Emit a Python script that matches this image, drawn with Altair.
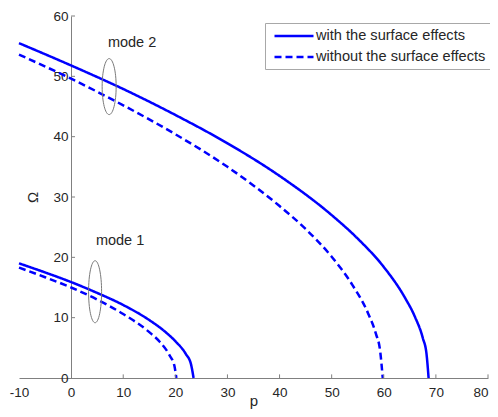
import altair as alt
import pandas as pd

series_labels = ["with the surface effects", "without the surface effects"]

m1_with_p = [-10, -5, 0, 5, 10, 15, 18, 20, 22, 23, 23.5]
m1_with_w = [19.0, 17.5, 15.9, 14.1, 12.1, 9.6, 7.7, 6.1, 4.0, 2.3, 0.0]
m1_without_p = [-10, -5, 0, 5, 10, 15, 17, 19, 19.8, 20.2]
m1_without_w = [18.3, 16.7, 15.0, 13.0, 10.6, 7.6, 6.0, 3.6, 2.1, 0.0]
m2_with_p = [-10, 0, 10, 20, 30, 40, 50, 55, 60, 64, 66, 67.5, 68.2, 68.6]
m2_with_w = [55.5, 51.8, 47.9, 43.6, 38.9, 33.5, 27.0, 23.1, 18.4, 13.4, 10.1, 6.6, 4.0, 0.0]
m2_without_p = [-10, 0, 10, 20, 30, 40, 45, 50, 54, 57, 58.5, 59.3, 59.8]
m2_without_w = [53.6, 49.6, 45.2, 40.4, 35.0, 28.5, 24.7, 20.1, 15.4, 10.7, 7.3, 4.5, 0.0]

x_ticks = [-10, 0, 10, 20, 30, 40, 50, 60, 70, 80]
y_ticks = [0, 10, 20, 30, 40, 50, 60]

mode_labels = ["mode 1", "mode 2"]
mode_label_p = [9.4, 11.7]
mode_label_w = [22.7, 55.6]
ellipse_p = [4.6, 7.3]
ellipse_w = [14.3, 48.3]

rows = []
for mode, eff, ps, ws in [
    ("mode 1", series_labels[0], m1_with_p, m1_with_w),
    ("mode 1", series_labels[1], m1_without_p, m1_without_w),
    ("mode 2", series_labels[0], m2_with_p, m2_with_w),
    ("mode 2", series_labels[1], m2_without_p, m2_without_w),
]:
    for p, w in zip(ps, ws):
        rows.append({"p": p, "w": w, "mode": mode, "effect": eff})
lines_df = pd.DataFrame(rows)

FONT = "Liberation Sans"
TXT = "#262626"
AX = "#808080"
BLUE = "#0000ff"

xscale = alt.Scale(domain=[-10, 80], nice=False, zero=False)
yscale = alt.Scale(domain=[0, 60], nice=False)

lines = alt.Chart(lines_df).mark_line(
    color=BLUE, strokeWidth=2.5, interpolate="monotone"
).encode(
    x=alt.X("p:Q", scale=xscale, axis=alt.Axis(
        values=x_ticks, ticks=False, grid=False, domainColor=AX,
        labelExpr="datum.value < 0 ? '-' + abs(datum.value) : '' + datum.value",
        labelAlign={"condition": {"test": f"datum.value >= {x_ticks[-1]}", "value": "right"},
                    "value": "center"},
        labelFont=FONT, labelFontSize=13.5, labelColor=TXT, labelPadding=7,
        title="p", titleFont=FONT, titleFontSize=15, titleFontWeight="normal",
        titleColor=TXT, titleBaseline="alphabetic", titleY=27,
        labelFlush=False)),
    y=alt.Y("w:Q", scale=yscale, axis=alt.Axis(
        values=y_ticks, ticks=False, grid=False, domainColor=AX, offset=-52,
        labelFont=FONT, labelFontSize=13.5, labelColor=TXT, labelPadding=3,
        title="Ω", titleFont=FONT, titleFontSize=15, titleFontWeight="normal",
        titleColor=TXT, titlePadding=12, labelFlush=False)),
    detail="mode:N",
    strokeDash=alt.StrokeDash("effect:N", scale=alt.Scale(
        domain=series_labels, range=[[1, 0], [7, 4]]),
        legend=alt.Legend(
            title=None, orient="none", legendX=246, legendY=7,
            symbolType="M-3,0L3,0", symbolSize=169, symbolStrokeWidth=2.5,
            symbolStrokeColor=BLUE, symbolFillColor="transparent",
            labelFont=FONT, labelFontSize=14.6,
            labelColor=TXT, labelLimit=400, labelOffset=14,
            strokeColor="#a8a8a8", fillColor="white", padding=5,
            symbolOffset=16, rowPadding=6)),
)

xt_df = pd.DataFrame({"p": [t for t in x_ticks if t > 0]})
xticks_layer = alt.Chart(xt_df).mark_rule(color=AX, strokeWidth=1).encode(
    x=alt.X("p:Q", scale=xscale),
    y=alt.datum(0, scale=yscale),
    y2=alt.datum(0.6),
)
yt_df = pd.DataFrame({"w": [t for t in y_ticks if t > 0]})
yticks_layer = alt.Chart(yt_df).mark_rule(color=AX, strokeWidth=1).encode(
    y=alt.Y("w:Q", scale=yscale),
    x=alt.datum(0, scale=xscale),
    x2=alt.datum(0.75),
)

ann_df = pd.DataFrame({"p": mode_label_p, "w": mode_label_w, "t": mode_labels})
ann = alt.Chart(ann_df).mark_text(
    font=FONT, fontSize=14.5, color=TXT, align="center", baseline="middle"
).encode(
    x=alt.X("p:Q", scale=xscale),
    y=alt.Y("w:Q", scale=yscale),
    text="t:N",
)

ell1 = alt.Chart(pd.DataFrame({"p": ellipse_p[:1], "w": ellipse_w[:1]})).mark_point(
    shape="M0,-1 A0.21,1 0 1,1 0,1 A0.21,1 0 1,1 0,-1 Z",
    size=3844, filled=False, color="#7a7a7a", strokeWidth=1, opacity=1
).encode(
    x=alt.X("p:Q", scale=xscale),
    y=alt.Y("w:Q", scale=yscale),
)
ell2 = alt.Chart(pd.DataFrame({"p": ellipse_p[1:], "w": ellipse_w[1:]})).mark_point(
    shape="M0,-1 A0.25,1 0 1,1 0,1 A0.25,1 0 1,1 0,-1 Z",
    size=3136, filled=False, color="#7a7a7a", strokeWidth=1, opacity=1
).encode(
    x=alt.X("p:Q", scale=xscale),
    y=alt.Y("w:Q", scale=yscale),
)

chart = alt.layer(lines, xticks_layer, yticks_layer, ell1, ell2, ann).properties(
    width=469, height=362,
    autosize=alt.AutoSizeParams(type="none"),
    padding={"left": 11, "top": 8, "right": 2, "bottom": 31},
    background="white",
).configure_view(stroke=None)

chart.save("out.html", embed_options={"renderer": "svg", "actions": False})
